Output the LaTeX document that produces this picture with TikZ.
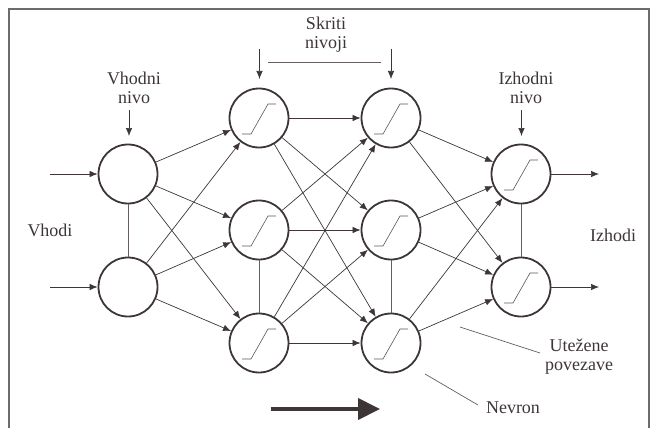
\documentclass[tikz,border=0pt]{standalone}
\usepackage{fontspec}
\setmainfont{Liberation Serif}
\usetikzlibrary{arrows.meta}
\definecolor{ink}{HTML}{3E3636}
\begin{document}
\begin{tikzpicture}[x=1pt,y=-1pt,
  neuron/.style={circle,draw=ink,line width=1.8pt,minimum size=59pt,inner sep=0pt},
  conn/.style={draw=ink,line width=0.7pt,-{Latex[length=8pt,width=6.5pt]}},
  link/.style={draw=ink!80,line width=0.7pt},
  lbl/.style={text=ink,font=\fontsize{18}{19}\selectfont,align=center},
  sig/.pic={\draw[ink!85,line width=0.6pt] (-17,16)--(-8,16)--(9,-14)--(17,-14);}
]
\useasboundingbox (0,0) rectangle (656,428);
\clip (0,0) rectangle (656,428);
\draw[gray!85!black,line width=1.8pt] (9,440)--(9,9)--(649,9)--(649,440);
% neurons
\node[neuron] (i1) at (128,174) {};
\node[neuron] (i2) at (128,287) {};
\node[neuron] (h11) at (259,118) {};
\node[neuron] (h12) at (259,230) {};
\node[neuron] (h13) at (259,343) {};
\node[neuron] (h21) at (391,118) {};
\node[neuron] (h22) at (391,230) {};
\node[neuron] (h23) at (391,343) {};
\node[neuron] (o1) at (521,174) {};
\node[neuron] (o2) at (521,287) {};
\foreach \n in {h11,h12,h13,h21,h22,h23,o1,o2} \pic at (\n) {sig};
% connections
\foreach \a in {i1,i2} \foreach \b in {h11,h12,h13} \draw[conn] (\a) -- (\b);
\foreach \a in {h11,h12,h13} \foreach \b in {h21,h22,h23} \draw[conn] (\a) -- (\b);
\foreach \a in {h21,h22,h23} \foreach \b in {o1,o2} \draw[conn] (\a) -- (\b);
\draw[link] (i1) -- (i2);
\draw[link] (h12) -- (h13);
\draw[link] (h22) -- (h23);
\draw[link] (o1) -- (o2);
% inputs / outputs
\coordinate (in1) at (50,174);
\coordinate (in2) at (50,287);
\coordinate (out1) at (599,174);
\coordinate (out2) at (599,287);
\draw[conn] (in1) -- (i1);
\draw[conn] (in2) -- (i2);
\draw[conn] (o1) -- (out1);
\draw[conn] (o2) -- (out2);
% labels
\node[lbl] (lvh) at (134,88) {Vhodni\\nivo};
\coordinate (avs) at (129,110); \coordinate (ave) at (129,136);
\draw[conn] (avs) -- (ave);
\node[lbl] (lsk) at (326,35) {Skriti\\nivoji};
\coordinate (as1) at (259.5,49); \coordinate (ae1) at (259.5,79);
\coordinate (as2) at (391,49); \coordinate (ae2) at (391,79);
\draw[conn] (as1) -- (ae1);
\draw[conn] (as2) -- (ae2);
\coordinate (ls) at (268,62); \coordinate (le) at (381,62);
\draw[link] (ls) -- (le);
\node[lbl] (liz) at (526,88) {Izhodni\\nivo};
\coordinate (ais) at (521.5,110); \coordinate (aie) at (521.5,136);
\draw[conn] (ais) -- (aie);
\node[lbl] (lvhodi) at (50,230) {Vhodi};
\node[lbl] (lizhodi) at (613,235) {Izhodi};
\node[lbl] (lut) at (579,357) {Utežene\\povezave};
\coordinate (us) at (460,327); \coordinate (ue) at (540,353);
\draw[link] (us) -- (ue);
\node[lbl] (lne) at (513,408) {Nevron};
\coordinate (ns) at (425,374); \coordinate (ne) at (478,405);
\draw[link] (ns) -- (ne);
% big arrow
\coordinate (bs) at (271,409); \coordinate (be) at (380,409);
\draw[ink,line width=4pt,-{Triangle[length=22pt,width=21pt]}] (bs) -- (be);
\end{tikzpicture}
\end{document}
